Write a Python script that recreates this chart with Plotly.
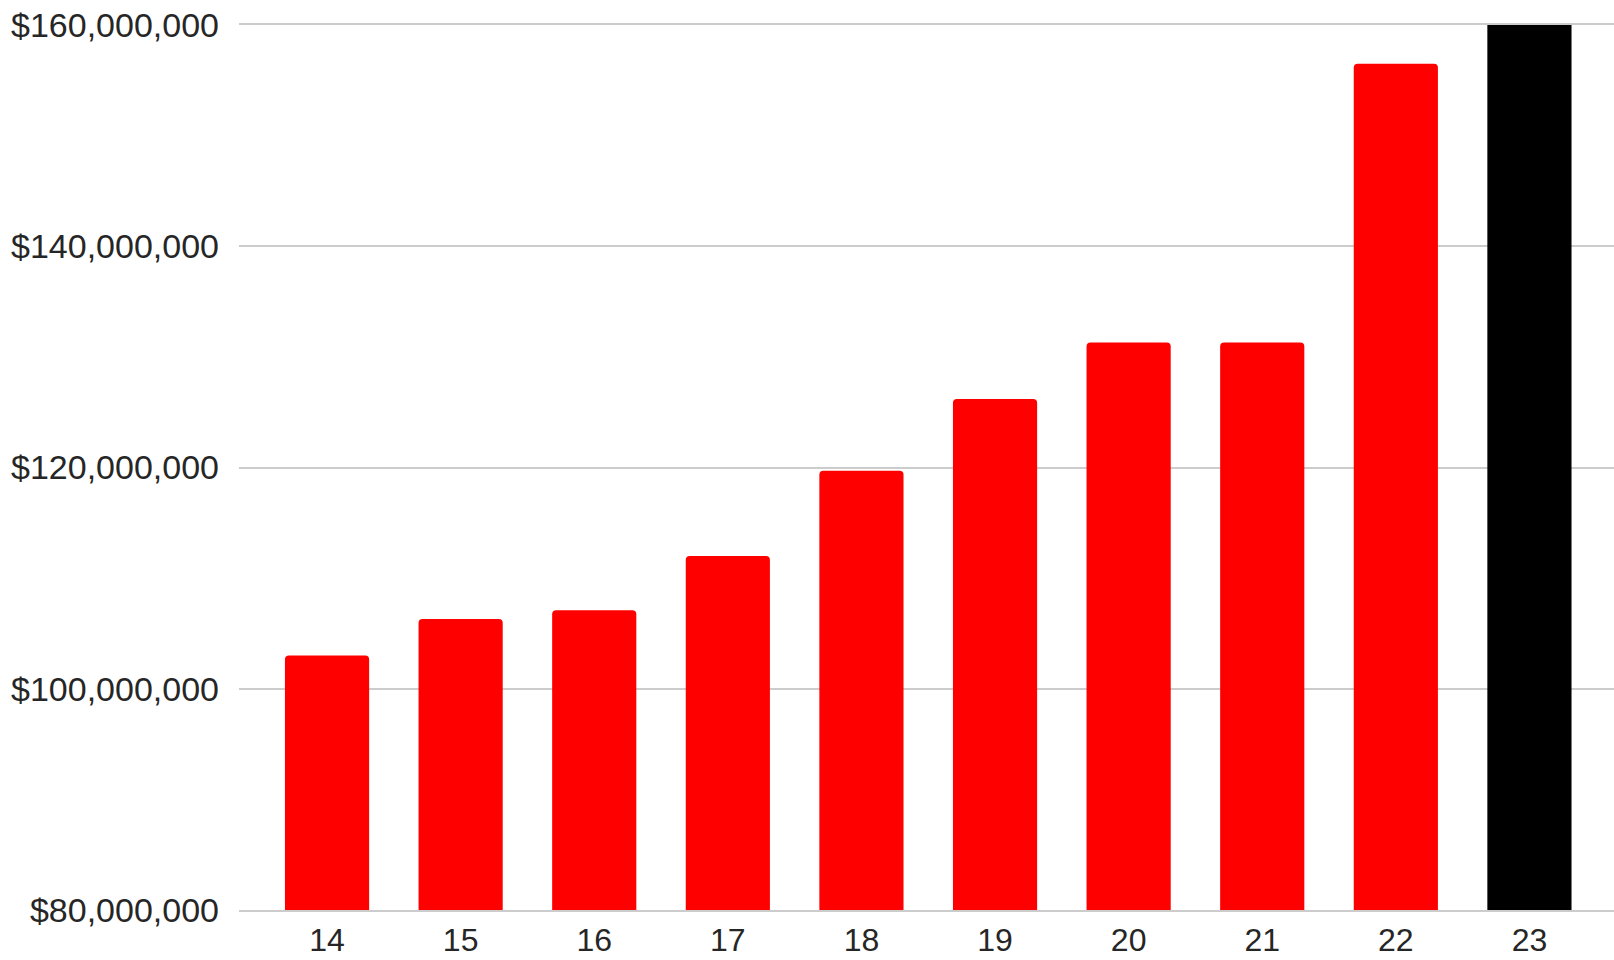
import plotly.graph_objects as go

categories = ["14", "15", "16", "17", "18", "19", "20", "21", "22", "23"]
values = [103000000, 106300000, 107100000, 112000000, 119700000,
          126200000, 131300000, 131300000, 156500000, 161000000]
bar_colors = ["#ff0000"] * 9 + ["#000000"]
y_ticks = [80000000, 100000000, 120000000, 140000000, 160000000]
y_tick_labels = ["$80,000,000", "$100,000,000", "$120,000,000", "$140,000,000", "$160,000,000"]

fig = go.Figure(go.Bar(
    x=categories, y=values,
    marker=dict(color=bar_colors, line=dict(width=0), cornerradius=4),
    hoverinfo="skip",
))

font = dict(family="Liberation Sans, Arial, sans-serif", size=34, color="#262626")
xfont = dict(family="Liberation Sans, Arial, sans-serif", size=32, color="#262626")

fig.update_layout(
    width=1614, height=960,
    margin=dict(l=239, r=0, t=25, b=50),
    paper_bgcolor="white", plot_bgcolor="white",
    bargap=0.37,
    showlegend=False,
    font=font,
)
fig.update_xaxes(
    type="category", range=[-0.659, 9.633],
    showgrid=False, zeroline=False,
    showline=True, mirror=True, linecolor="#cccccc", linewidth=2,
    layer="below traces",
    ticks="", tickfont=xfont, ticklabelstandoff=1,
    automargin=False,
)
fig.update_yaxes(
    range=[80000000, 160000000],
    tickvals=y_ticks, ticktext=y_tick_labels,
    showgrid=True, gridcolor="#cccccc", gridwidth=2,
    zeroline=False, showline=False, ticks="",
    tickfont=font, ticklabelstandoff=19,
    automargin=False,
)

fig.write_html("out.html")
